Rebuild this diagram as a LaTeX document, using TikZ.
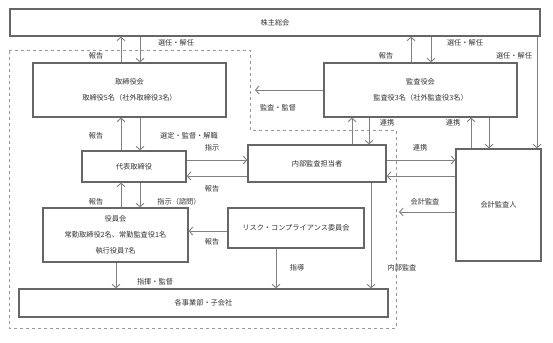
\documentclass[tikz,border=0pt]{standalone}
\usepackage{fontspec}
\newfontfamily\jpfont{Noto Sans CJK JP}
\usepackage{xcolor}
\usepackage{tikz}
\usetikzlibrary{arrows.meta}

\begin{document}
\begin{tikzpicture}[x=1pt, y=-1pt,
        box/.style={draw=black!60, line width=1.3pt, fill=white, inner sep=0pt,
            align=center, font=\jpfont\fontsize{7.2}{16}\selectfont, text=black!80},
        lab/.style={font=\jpfont\fontsize{7.2}{9}\selectfont, text=black!80, inner sep=0pt},
        arr/.style={draw=black!50, line width=0.9pt, -{Straight Barb[length=3.5pt, width=8pt]}}
    ]
    \useasboundingbox (0,0) rectangle (553,342);
    \draw[black!40, dashed, line width=0.6pt] (9,50) -- (250,50) -- (250,130) -- (396,130)
        -- (396,328) -- (9,328) -- cycle;
    \node[box, minimum width=530pt, minimum height=27pt] (sokai) at (275,22.5) {株主総会};
    \node[box, minimum width=193pt, minimum height=54pt] (torikai) at (129.5,90) {取締役会\\取締役5名（社外取締役3名）};
    \node[box, minimum width=193pt, minimum height=54pt] (kansakai) at (420.5,90) {監査役会\\監査役3名（社外監査役3名）};
    \node[box, minimum width=104pt, minimum height=31pt] (daihyo) at (134,166.5) {代表取締役};
    \node[box, minimum width=138pt, minimum height=37pt] (naibu) at (317,163.5) {内部監査担当者};
    \node[box, minimum width=85pt, minimum height=112pt] (kaikei) at (498.5,205) {会計監査人};
    \node[box, minimum width=145pt, minimum height=54pt] (yakuin) at (115.5,235) {役員会\\常勤取締役2名、常勤監査役1名\\執行役員7名};
    \node[box, minimum width=136pt, minimum height=40pt] (risk) at (296,228) {リスク・コンプライアンス委員会};
    \node[box, minimum width=369pt, minimum height=28pt] (jigyo) at (203.5,303) {各事業部・子会社};
    \coordinate (kantoku) at (255,90);
    \coordinate (kaikeiend) at (399,212);
    % shareholders
    \draw[arr] ([xshift=-8.5pt]torikai.north) -- ([xshift=-8.5pt]torikai.north |- sokai.south);
    \draw[arr] ([xshift=10.5pt]torikai.north |- sokai.south) -- ([xshift=10.5pt]torikai.north);
    \draw[arr] ([xshift=-9.5pt]kansakai.north) -- ([xshift=-9.5pt]kansakai.north |- sokai.south);
    \draw[arr] ([xshift=10.5pt]kansakai.north |- sokai.south) -- ([xshift=10.5pt]kansakai.north);
    \draw[arr] ([xshift=38.5pt]kaikei.north |- sokai.south) -- ([xshift=38.5pt]kaikei.north);
    % board and executives
    \draw[arr] ([xshift=-13pt]daihyo.north) -- ([xshift=-13pt]daihyo.north |- torikai.south);
    \draw[arr] ([xshift=6pt]daihyo.north |- torikai.south) -- ([xshift=6pt]daihyo.north);
    \draw[arr] ([xshift=5.5pt]yakuin.north) -- ([xshift=5.5pt]yakuin.north |- daihyo.south);
    \draw[arr] ([xshift=6pt]daihyo.south) -- ([xshift=6pt]daihyo.south |- yakuin.north);
    \draw[arr] ([xshift=0.5pt]yakuin.south) -- ([xshift=0.5pt]yakuin.south |- jigyo.north);
    \draw[arr] ([yshift=-3pt]risk.west) -- ([yshift=-3pt]risk.west -| yakuin.east);
    \draw[arr] ([xshift=-20pt]risk.south) -- ([xshift=-20pt]risk.south |- jigyo.north);
    % internal audit
    \draw[arr] ([yshift=6.5pt]daihyo.east) -- ([yshift=6.5pt]daihyo.east -| naibu.west);
    \draw[arr] ([yshift=-9.5pt]daihyo.east -| naibu.west) -- ([yshift=-9.5pt]daihyo.east);
    \draw[arr] ([xshift=54pt]naibu.south) -- ([xshift=54pt]naibu.south |- jigyo.north);
    \draw[arr] ([xshift=35pt]naibu.north) -- ([xshift=35pt]naibu.north |- kansakai.south);
    \draw[arr] ([xshift=52pt]naibu.north |- kansakai.south) -- ([xshift=52pt]naibu.north);
    \draw[arr] ([yshift=3.5pt]naibu.east) -- ([yshift=3.5pt]naibu.east -| kaikei.west);
    \draw[arr] ([yshift=-12.5pt]naibu.east -| kaikei.west) -- ([yshift=-12.5pt]naibu.east);
    % auditors
    \draw[arr] (kansakai.west) -- (kantoku);
    \draw[arr] ([xshift=-27.5pt]kaikei.north) -- ([xshift=-27.5pt]kaikei.north |- kansakai.south);
    \draw[arr] ([xshift=-9.5pt]kaikei.north |- kansakai.south) -- ([xshift=-9.5pt]kaikei.north);
    \draw[arr] (kaikei.west |- kaikeiend) -- (kaikeiend);
    % labels
    \node[lab] (lhoukoku1) at (96,56) {報告};
    \node[lab] (lsennin1) at (176,43) {選任・解任};
    \node[lab] (lhoukoku2) at (386,56) {報告};
    \node[lab] (lsennin2) at (465,43) {選任・解任};
    \node[lab] (lsennin3) at (514,56) {選任・解任};
    \node[lab] (lkantoku) at (278,108) {監査・監督};
    \node[lab] (lhoukoku3) at (96,136) {報告};
    \node[lab] (lsentei) at (189,136) {選定・監督・解職};
    \node[lab] (lrenkei1) at (387,123) {連携};
    \node[lab] (lrenkei2) at (453,123) {連携};
    \node[lab] (lshiji) at (212,148) {指示};
    \node[lab] (lrenkei3) at (420,148) {連携};
    \node[lab] (lhoukoku4) at (212,189) {報告};
    \node[lab] (lhoukoku5) at (96,202) {報告};
    \node[lab] (lshimon) at (179,202) {指示（諮問）};
    \node[lab] (lkaikei) at (425,202) {会計監査};
    \node[lab] (lhoukoku6) at (212,242) {報告};
    \node[lab] (lshido) at (297,268) {指導};
    \node[lab] (lnaibu) at (402,268) {内部監査};
    \node[lab] (lshiki) at (155,282) {指揮・監督};
\end{tikzpicture}
\end{document}
